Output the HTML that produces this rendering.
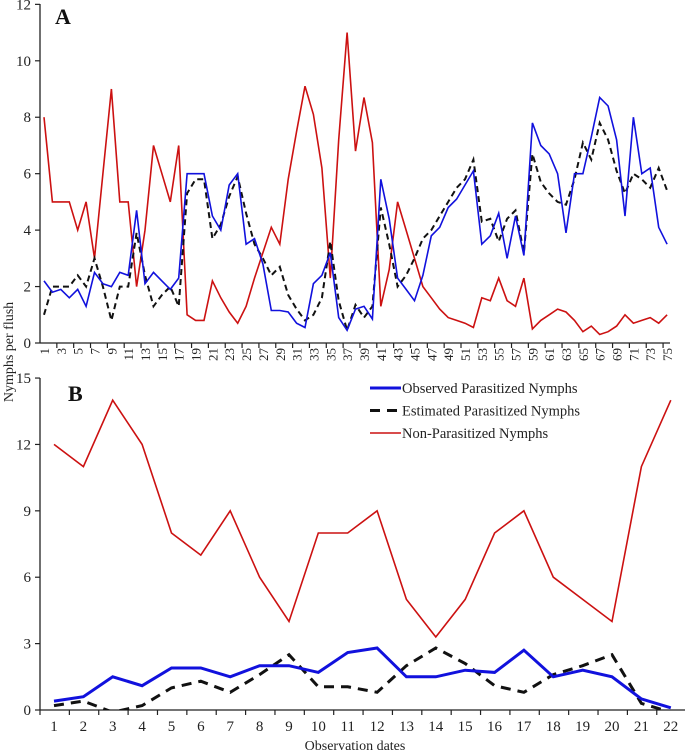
<!DOCTYPE html>
<html><head><meta charset="utf-8">
<style>
body{margin:0;background:#fff;}
svg{display:block;font-family:"Liberation Serif",serif;}
</style></head>
<body>
<svg id="chart" width="685" height="752" viewBox="0 0 685 752"></svg>
<script>
const aCats = Array.from({length:75},(_,i)=>i+1);
const aRed = [8,5,5,5,4,5,3,6,9,5,5,2,4,7,6,5,7,1,0.8,0.8,2.2,1.6,1.1,0.7,1.3,2.3,3.2,4.1,3.5,5.8,7.5,9.1,8.1,6.2,2.3,7.2,11,6.8,8.7,7.1,1.3,2.6,5,4,3,2,1.6,1.2,0.9,0.8,0.7,0.55,1.6,1.5,2.3,1.5,1.3,2.3,0.5,0.8,1.0,1.2,1.1,0.8,0.4,0.6,0.3,0.4,0.6,1.0,0.7,0.8,0.9,0.7,1.0];
const aBlue = [2.2,1.8,1.9,1.6,1.9,1.3,2.5,2.1,2.0,2.5,2.4,4.7,2.1,2.5,2.2,1.9,2.3,6,6,6,4.5,4.0,5.6,6,3.5,3.7,2.8,1.15,1.15,1.1,0.7,0.55,2.1,2.4,3.2,0.9,0.45,1.2,1.3,0.85,5.8,4.4,2.3,1.9,1.5,2.4,3.8,4.1,4.8,5.1,5.6,6.1,3.5,3.8,4.6,3,4.5,3.1,7.8,7.0,6.7,6,3.9,6,6,7.3,8.7,8.4,7.2,4.5,8,6,6.2,4.1,3.5];
const aBlack = [1.0,2.0,2.0,2.0,2.4,2.0,3.0,2.0,0.8,2,2,3.9,2.4,1.3,1.7,2.0,1.3,5.3,5.8,5.8,3.7,4.2,5.2,5.9,4.6,3.5,3,2.4,2.7,1.7,1.2,0.8,1.0,1.6,3.6,1.5,0.45,1.35,0.9,1.3,4.8,3.5,2.0,2.4,3.0,3.7,4.0,4.5,5.0,5.5,5.8,6.5,4.3,4.4,3.6,4.4,4.7,3.2,6.7,5.7,5.3,5.0,4.9,5.8,7.1,6.5,7.8,7.2,6.1,5.3,6.0,5.8,5.5,6.2,5.4];
const aYTicks = [0,2,4,6,8,10,12];
const bCats = Array.from({length:22},(_,i)=>i+1);
const bRed = [12,11,14,12,8,7,9,6,4,8,8,9,5,3.3,5,8,9,6,5,4,11,14];
const bBlue = [0.4,0.6,1.5,1.1,1.9,1.9,1.5,2.0,2.0,1.7,2.6,2.8,1.5,1.5,1.8,1.7,2.7,1.5,1.8,1.5,0.5,0.1];
const bBlack = [0.2,0.4,-0.1,0.2,1.0,1.3,0.8,1.6,2.5,1.05,1.05,0.8,2.0,2.8,2.1,1.1,0.8,1.6,2.0,2.5,0.3,-0.1];
const bYTicks = [0,3,6,9,12,15];
const legendLabels = ["Observed Parasitized Nymphs","Estimated Parasitized Nymphs","Non-Parasitized Nymphs"];

const NS="http://www.w3.org/2000/svg";
const svg=document.getElementById('chart');
function mk(tag,attrs,parent,text){const e=document.createElementNS(NS,tag);for(const k in attrs)e.setAttribute(k,attrs[k]);if(text!==undefined)e.textContent=text;(parent||svg).appendChild(e);return e;}

// Panel A scales
const axA=i=>44+(i-1)*8.42;
const ayA=v=>343-v*28.22;
// Panel B scales
const axB=i=>54+(i-1)*29.37;
const ayB=v=>710-v*22.13;

function axes(g,xl,xr,y0,ys,ticks,yfn){
  let l=mk('line',{x1:40,y1:ys,x2:40,y2:y0,stroke:'#222','stroke-width':1.3},g);
  
  
  let b=mk('line',{x1:40,y1:y0,x2:xr,y2:y0,stroke:'#222','stroke-width':1.3},g);
  
  
  ticks.forEach(t=>{
    const y=yfn(t);
    mk('line',{x1:35,y1:y,x2:40,y2:y,stroke:'#222','stroke-width':1.2},g);
    const tx=mk('text',{x:31,y:y+5,'text-anchor':'end','font-size':15,fill:'#222'},g,String(t));
    
    
  });
}
function series(g,cats,vals,xf,yf,stroke,w,dash,name){
  const d=vals.map((v,i)=>(i?'L':'M')+xf(cats[i]).toFixed(1)+','+yf(v).toFixed(1)).join(' ');
  const p=mk('path',{d:d,fill:'none',stroke:stroke,'stroke-width':w,'stroke-linejoin':'miter'},g);
  if(dash)p.setAttribute('stroke-dasharray',dash);
  
  
}

// Panel A
const gA=mk('g',{});


axes(gA,40,670,343,4,aYTicks,ayA);
for(let k=1;k<=37;k++){const x=40+k*16.84;if(x>672)break;mk('line',{x1:x,y1:343,x2:x,y2:348,stroke:'#222','stroke-width':1.2},gA);}
aCats.forEach(c=>{if(c%2===1){const x=axA(c);const t=mk('text',{x:0,y:0,transform:`translate(${x+5},348) rotate(-90)`,'text-anchor':'end','font-size':13,fill:'#222'},gA,String(c));
 
 }});
series(gA,aCats,aRed,axA,ayA,'#cc1111',1.6,null,'non-parasitized-line-a');
series(gA,aCats,aBlack,axA,ayA,'#111',2,'6,4','estimated-parasitized-line-a');
series(gA,aCats,aBlue,axA,ayA,'#1111dd',1.6,null,'observed-parasitized-line-a');
const lA=mk('text',{x:55,y:24,'font-size':22,'font-weight':'bold',fill:'#111'},gA,'A');



// Panel B
const gB=mk('g',{});


axes(gB,40,685,710,378,bYTicks,ayB);
for(let k=0;k<=22;k++){const x=40+k*29.37;mk('line',{x1:x,y1:710,x2:x,y2:715,stroke:'#222','stroke-width':1.2},gB);}
bCats.forEach(c=>{const t=mk('text',{x:axB(c),y:731,'text-anchor':'middle','font-size':15,fill:'#222'},gB,String(c));
 
 });
const clip=mk('clipPath',{id:'cb'},gB);mk('rect',{x:40,y:370,width:645,height:340},clip);
const gBc=mk('g',{'clip-path':'url(#cb)'},gB);
series(gBc,bCats,bRed,axB,ayB,'#cc1111',1.6,null,'non-parasitized-line-b');
series(gBc,bCats,bBlack,axB,ayB,'#111',3,'10,7','estimated-parasitized-line-b');
series(gBc,bCats,bBlue,axB,ayB,'#1111dd',3,null,'observed-parasitized-line-b');
const lB=mk('text',{x:68,y:401,'font-size':22,'font-weight':'bold',fill:'#111'},gB,'B');



// Legend
const lg=mk('g',{});


const lstyles=[['#1111dd',3,null],['#111',3,'10,7'],['#cc1111',1.6,null]];
legendLabels.forEach((s,i)=>{const y=388+i*22.5;
 const ln=mk('line',{x1:370,y1:y,x2:401,y2:y,stroke:lstyles[i][0],'stroke-width':lstyles[i][1]},lg);
 if(lstyles[i][2])ln.setAttribute('stroke-dasharray',lstyles[i][2]);
 const t=mk('text',{x:402,y:y+5,'font-size':14.5,fill:'#222'},lg,s);
 
 });

// Titles
const yt=mk('text',{x:0,y:0,transform:'translate(13,352) rotate(-90)','text-anchor':'middle','font-size':14,fill:'#222'},svg,'Nymphs per flush');


const xt=mk('text',{x:355,y:750,'text-anchor':'middle','font-size':14,fill:'#222'},svg,'Observation dates');


</script>
</body></html>
